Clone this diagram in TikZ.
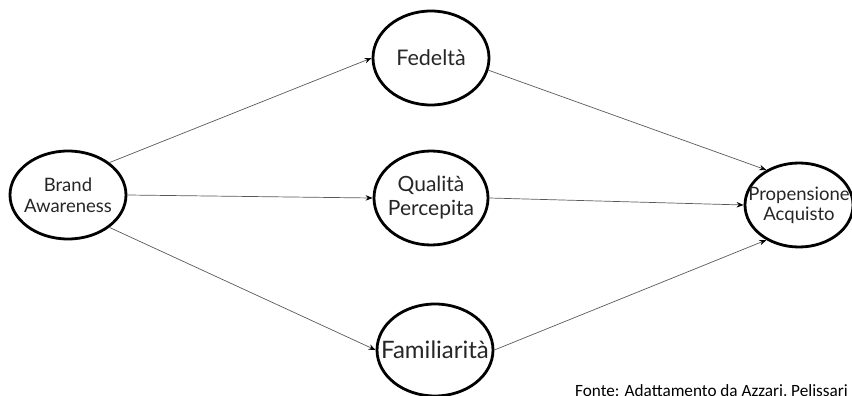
\documentclass[tikz,border=0pt]{standalone}
\usepackage{fontspec}
\setmainfont{Lato}
\newfontfamily\footfont{Carlito}
\usetikzlibrary{shapes.geometric,arrows.meta}
\newcommand{\zb}[1]{\makebox[0pt]{#1}}
\tikzset{
  construct/.style={ellipse, draw=black, line width=2.8pt, inner sep=0pt,
    align=center, text=black!85},
  link/.style={draw=black!65, line width=0.7pt, -{Stealth[length=7pt,width=5.5pt,black]}}
}
\begin{document}
\begin{tikzpicture}[x=1pt,y=-1pt]
\useasboundingbox (0,0) rectangle (852,396);
\clip (0,0) rectangle (852,396);
\node[construct, minimum width=116pt, minimum height=88pt, font=\fontsize{18.5}{21}\selectfont] (ba) at (68,195) {\zb{Brand}\\\zb{Awareness}};
\node[construct, minimum width=116pt, minimum height=94pt, font=\fontsize{21.5}{24}\selectfont] (fe) at (431,58) {\zb{Fedeltà}};
\node[construct, minimum width=114pt, minimum height=94pt, font=\fontsize{21}{24}\selectfont] (qp) at (431,198) {\zb{Qualità}\\\zb{Percepita}};
\node[construct, minimum width=116pt, minimum height=92pt, font=\fontsize{24}{26}\selectfont] (fa) at (435,350) {\zb{Familiarità}};
\node[construct, minimum width=108pt, minimum height=84pt, font=\fontsize{18.5}{20}\selectfont] (pa) at (799,205) {\zb{Propensione}\\\zb{Acquisto}};
\node[anchor=base west, font=\footfont\fontsize{17.2}{19}\selectfont, inner sep=0pt] (src) at (575,396) {Fonte: Adattamento da Azzari, Pelissari};
\draw[link] (ba.38) -- (fe.west);
\draw[link] (ba.east) -- (qp.west);
\draw[link] (ba.-38) -- (fa.west);
\draw[link] (fe.-12) -- (pa.133);
\draw[link] (qp.east) -- (pa.west);
\draw[link] (fa.east) -- (pa.-133);
\end{tikzpicture}
\end{document}
